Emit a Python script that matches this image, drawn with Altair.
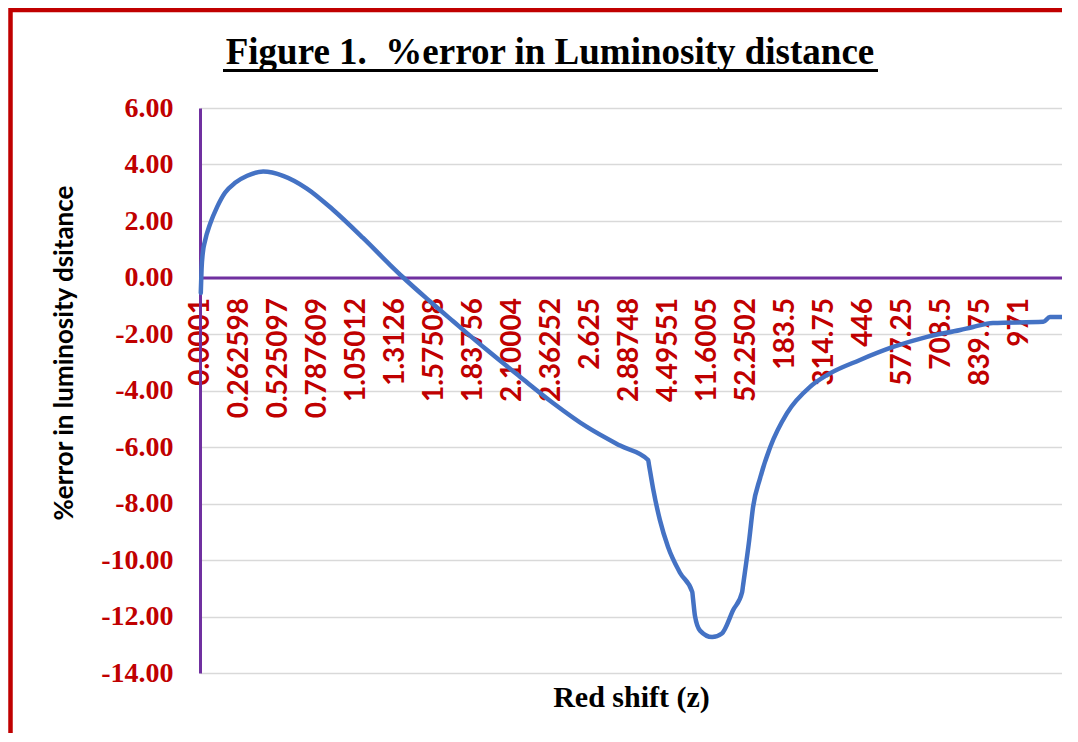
import json
import altair as alt
import pandas as pd

# category-axis labels (every 21st-ish category shown in the source)
x_labels = ["0.0001", "0.262598", "0.525097", "0.787609", "1.05012", "1.3126",
            "1.57508", "1.83756", "2.10004", "2.36252", "2.625", "2.88748",
            "4.49551", "11.6005", "52.2502", "183.5", "314.75", "446",
            "577.25", "708.5", "839.75", "971"]

# position along the category axis (in label-step units) and % error
pos = [0.02, 0.04, 0.07, 0.13, 0.26, 0.44, 0.64, 0.90, 1.21, 1.62, 2.13, 2.74, 3.41,
       4.18, 4.87, 5.21, 5.90, 6.49, 7.36, 8.21, 9.05, 9.92, 10.77, 11.49, 11.51,
       11.62, 11.79, 12.00, 12.31, 12.62, 12.64, 12.69, 12.82, 13.13, 13.38, 13.67,
       13.90, 13.92, 14.08, 14.18, 14.36, 14.62, 15.05, 15.64, 16.08, 16.92, 17.77,
       18.64, 19.49, 19.82, 20.33, 21.62, 21.79, 22.10]
err = [-0.55, 0.30, 0.85, 1.30, 1.90, 2.50, 3.00, 3.35, 3.60, 3.75, 3.60, 3.15, 2.40,
       1.40, 0.45, 0.00, -0.85, -1.55, -2.57, -3.52, -4.44, -5.29, -5.95, -6.46, -6.62,
       -7.50, -8.58, -9.54, -10.46, -11.13, -11.37, -11.98, -12.50, -12.73, -12.60, -11.77,
       -11.13, -10.93, -9.30, -8.12, -7.10, -6.00, -4.80, -3.87, -3.45, -2.92, -2.46,
       -2.10, -1.86, -1.75, -1.61, -1.57, -1.40, -1.40]

y_ticks = [-14, -12, -10, -8, -6, -4, -2, 0, 2, 4, 6]

df = pd.DataFrame({"u": pos, "err": err})

RED = "#C00000"
PURPLE = "#7030A0"

label_expr = json.dumps(x_labels) + "[datum.value]"

line = alt.Chart(df).mark_line(
    color="#4472C4", strokeWidth=4.5, strokeCap="round", strokeJoin="round",
    interpolate="monotone"
).encode(
    x=alt.X("u:Q",
            scale=alt.Scale(domain=[0, 22.1], nice=False, zero=False),
            axis=alt.Axis(
                values=list(range(len(x_labels))),
                labelExpr=label_expr,
                offset=-395.5,
                grid=False, ticks=False,
                domainColor=PURPLE, domainWidth=3,
                labelAngle=270, labelAlign="right", labelBaseline="middle",
                labelPadding=20, labelOverlap=False, labelBound=False, labelFlush=False,
                labelFont="Lato", labelFontSize=28, labelFontWeight="bold",
                labelColor=RED,
                title="Red shift (z)", titleFont="Liberation Serif", titleFontSize=30,
                titleFontWeight="bold", titleColor="black",
                titleY=419.5, titleBaseline="middle", titleAlign="center",
            )),
    y=alt.Y("err:Q",
            scale=alt.Scale(domain=[-14, 6], nice=False, zero=False),
            axis=alt.Axis(
                values=y_ticks,
                labelExpr="replace(format(datum.value, '.2f'), '\u2212', '-')",
                grid=True, gridColor="#D9D9D9", gridWidth=1.5,
                ticks=False, domainColor=PURPLE, domainWidth=3,
                labelPadding=27,
                labelFont="Liberation Serif", labelFontSize=28, labelFontWeight="bold",
                labelColor=RED,
                title="%error in luminosity dsitance", titleFont="Lato", titleFontSize=26,
                titleFontWeight="bold", titleColor="black",
                titleAngle=270, titleX=-136, titleY=244.5,
                titleAlign="center", titleBaseline="middle",
            )),
)

one = alt.Data(values=[{}])

frame = alt.Chart(one).mark_rect(
    fill="white", fillOpacity=0, stroke=RED, strokeWidth=4.5
).encode(x=alt.value(-189.5), x2=alt.value(1000), y=alt.value(-98), y2=alt.value(800))

title = alt.Chart(one).mark_text(
    text="Figure 1.\u00a0 %error in Luminosity distance",
    font="Liberation Serif", fontSize=37, fontWeight="bold",
    align="center", baseline="alphabetic", color="black"
).encode(x=alt.value(350), y=alt.value(-44))

underline = alt.Chart(one).mark_rule(color="black", strokeWidth=3).encode(
    x=alt.value(23), x2=alt.value(678), y=alt.value(-37.5))

chart = alt.layer(frame, line, title, underline).properties(
    width=862, height=565,
    autosize=alt.AutoSizeParams(type="none"),
    padding={"left": 192, "top": 100, "right": 0, "bottom": 60},
    background="white",
).configure_view(strokeWidth=0)

chart.save("out.html", embed_options={"renderer": "svg", "actions": False})
